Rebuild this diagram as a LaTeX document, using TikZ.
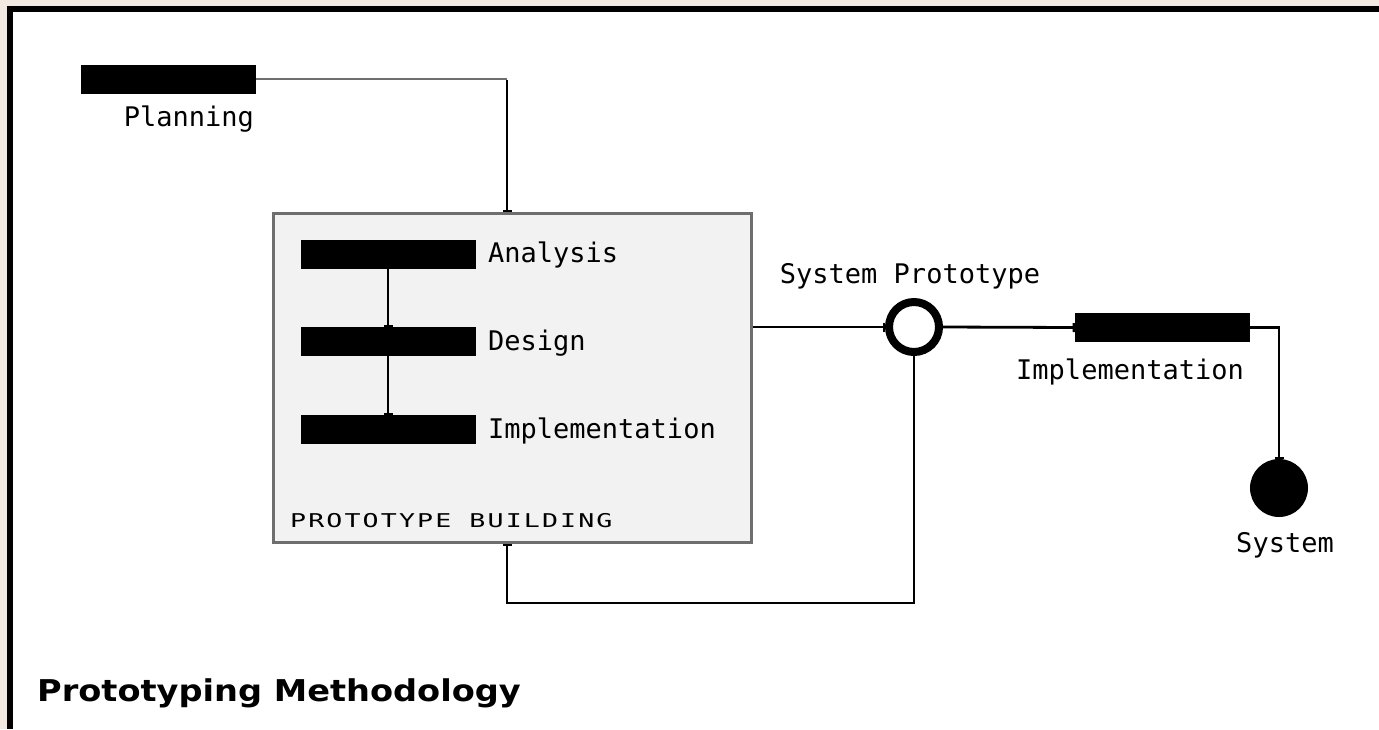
\documentclass[tikz,border=0pt]{standalone}
\usepackage{fontspec}
\usetikzlibrary{arrows.meta,calc}
\newfontfamily\pixfont{DejaVu Sans Mono}
\newfontfamily\capfont[LetterSpace=8]{DejaVu Sans Mono}
\newfontfamily\titlefont{DejaVu Sans}
\definecolor{bgbeige}{HTML}{F2E9E3}
\definecolor{boxgray}{HTML}{6E6E6E}
\definecolor{boxfill}{HTML}{F2F2F2}
\tikzset{
  bar/.style={fill=black, draw=none, minimum width=175pt, minimum height=29pt, inner sep=0pt},
  lbl/.style={font=\pixfont\fontsize{27}{30}\selectfont, inner sep=0pt},
  conn/.style={draw=black, line width=2.8pt},
  tick/.style={conn, -{Bar[width=9pt,line width=2.2pt]}},
}
\begin{document}
\begin{tikzpicture}[x=1pt,y=-1pt]
\useasboundingbox (0,0) rectangle (1379,729);
% frame
\fill[bgbeige] (0,0) rectangle (1379,729);
\fill[black] (7,6) rectangle (1379,729);
\fill[white] (13,12) rectangle (1379,729);

% planning
\node[bar] (plan) at (168.5,79) {};
\node[lbl, anchor=base east] (planl) at (254,126) {Planning};
\coordinate (pc) at (507,79);

% prototype building box
\node[draw=boxgray, fill=boxfill, line width=3pt, minimum width=478pt, minimum height=329pt, inner sep=0pt] (box) at (512.5,378) {};
\node[bar] (anal) at (388,254.5) {};
\node[bar] (des) at (388,341.5) {};
\node[bar] (imp1) at (388,429.5) {};
\node[lbl, anchor=base west] (anall) at (488,262) {Analysis};
\node[lbl, anchor=base west] (desl) at (488,350) {Design};
\node[lbl, anchor=base west] (imp1l) at (488,438) {Implementation};
\node[font=\capfont\fontsize{19}{21}\selectfont, anchor=base west, inner sep=0pt] (pbl) at (290,527) {\scalebox{1.4}[1]{PROTOTYPE BUILDING}};

% system prototype
\node[circle, draw=black, fill=white, line width=8pt, minimum size=50pt, inner sep=0pt] (ring) at (914,327) {};
\node[lbl, anchor=base] (ringl) at (910,283) {System Prototype};

% implementation
\node[bar] (imp2) at (1162.5,327.5) {};
\node[lbl, anchor=base east] (imp2l) at (1244,379) {Implementation};

% system
\node[circle, fill=black, minimum size=58pt, inner sep=0pt] (sys) at (1279,488) {};
\node[lbl, anchor=base] (sysl) at (1285,552) {System};

% feedback corner
\coordinate (fb) at (507,603);

% connectors
\draw[draw=boxgray, line width=2.8pt] (plan.east) -- (pc);
\draw[tick] ([yshift=-1.4pt]pc) -- (pc |- box.north);
\draw[tick] (anal.south) -- (des.north);
\draw[tick] (des.south) -- (imp1.north);
\draw[tick] (box.east |- ring.west) -- (ring.west);
\draw[tick] (ring.east) -- (imp2.west);
\draw[tick] (imp2.east) -| (sys.north);
\draw[tick] (ring.south) -- (ring.south |- fb) -- (fb) -- (fb |- box.south);

% title
\node[font=\titlefont\bfseries\fontsize{30}{32}\selectfont, anchor=base west, inner sep=0pt] (title) at (37,701) {\scalebox{1.12}[1]{Prototyping Methodology}};
\end{tikzpicture}
\end{document}
